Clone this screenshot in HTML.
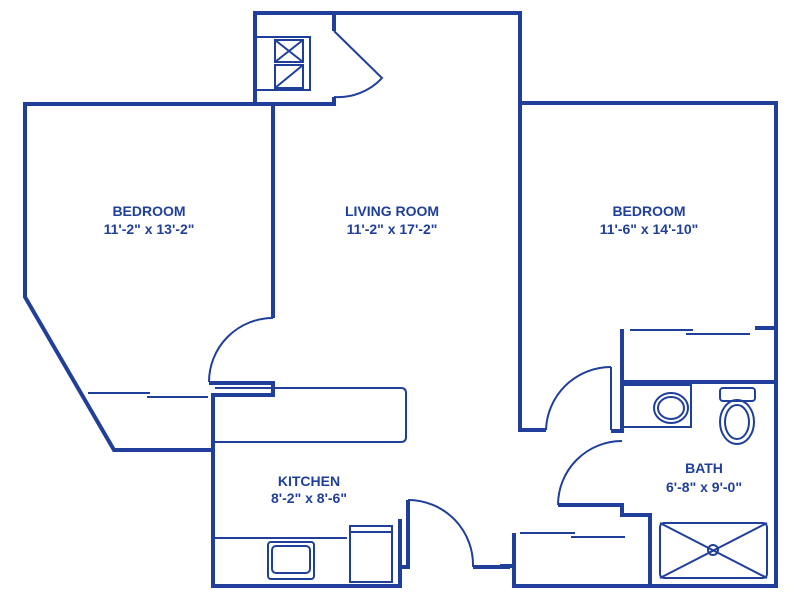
<!DOCTYPE html>
<html><head><style>
html,body{margin:0;padding:0;background:#fff;}
svg{display:block}
text{font-family:"Liberation Sans",sans-serif;font-weight:bold;fill:#1f3f9a;font-size:14px;text-anchor:middle;}
</style></head><body>
<svg width="800" height="600" viewBox="0 0 800 600" xmlns="http://www.w3.org/2000/svg">
<g fill="none" stroke="#1f3f9a" stroke-linejoin="miter">
<g stroke-width="4">
<polyline points="273,318 273,104 25,104 25,297 114,450 213,450"/>
<polyline points="209,383 273,383 273,395 213,395 213,586 400,586 400,519"/>
<polyline points="255,104 255,13 520,13 520,430 546,430"/>
<polyline points="255,104 334,104 334,97"/>
<line x1="334" y1="13" x2="334" y2="31"/>
<polyline points="520,103 776,103 776,586 514,586 514,533"/>
<line x1="500" y1="566" x2="514" y2="566"/>
<polyline points="755,328 776,328"/>
<polyline points="622,329 622,431 611,431"/>
<polyline points="622,382 776,382"/>
<polyline points="558,505 622,505 622,515 650,515 650,586"/>
<polyline points="408,500 408,567 400,567"/>
<line x1="473" y1="567" x2="510" y2="567"/>
</g>
<g stroke-width="2">
<path d="M273,318 A64,64 0 0 0 209,382"/>
<path d="M334,31 L382,78 A60,60 0 0 1 334,97"/>
<path d="M611,367 A65,65 0 0 0 546,430"/>
<line x1="611" y1="367" x2="611" y2="430"/>
<path d="M622,441 A64,64 0 0 0 558,505"/>
<path d="M408,500 A65,65 0 0 1 473,567"/>
<path d="M215,388 H401 Q406,388 406,393 V437 Q406,442 401,442 H215"/>
<line x1="88" y1="393" x2="150" y2="393"/>
<line x1="147" y1="397" x2="208" y2="397"/>
<line x1="630" y1="330" x2="693" y2="330"/>
<line x1="686" y1="334" x2="750" y2="334"/>
<line x1="520" y1="533" x2="575" y2="533"/>
<line x1="571" y1="537" x2="625" y2="537"/>
<line x1="214" y1="538" x2="347" y2="538"/>
<rect x="268" y="542" width="46" height="37" rx="3"/>
<rect x="272" y="546" width="38" height="27" rx="4"/>
<rect x="350" y="526" width="42" height="56"/>
<line x1="350" y1="532" x2="392" y2="532"/>
<rect x="255" y="37" width="55" height="53"/>
<rect x="275" y="40" width="28" height="22"/>
<path d="M275,40 L303,62 M303,40 L275,62"/>
<rect x="275" y="65" width="28" height="23"/>
<path d="M275,88 L303,65"/>
<rect x="622" y="385" width="69" height="42"/>
<ellipse cx="671" cy="408" rx="17" ry="15"/>
<ellipse cx="671" cy="408" rx="13" ry="11"/>
<rect x="720" y="388" width="35" height="13" rx="3"/>
<ellipse cx="737" cy="422" rx="17" ry="22"/>
<ellipse cx="737" cy="422" rx="12" ry="17"/>
<rect x="660" y="523" width="107" height="55" rx="4"/>
<path d="M660,523 L767,578 M767,523 L660,578"/>
<circle cx="713" cy="550" r="5"/>
</g>
</g>
<text x="149" y="216">BEDROOM</text>
<text x="149" y="234">11'-2" x 13'-2"</text>
<text x="392" y="216">LIVING ROOM</text>
<text x="392" y="234">11'-2" x 17'-2"</text>
<text x="649" y="216">BEDROOM</text>
<text x="649" y="234">11'-6" x 14'-10"</text>
<text x="309" y="486">KITCHEN</text>
<text x="309" y="503">8'-2" x 8'-6"</text>
<text x="704" y="473">BATH</text>
<text x="704" y="492">6'-8" x 9'-0"</text>
</svg>
</body></html>
